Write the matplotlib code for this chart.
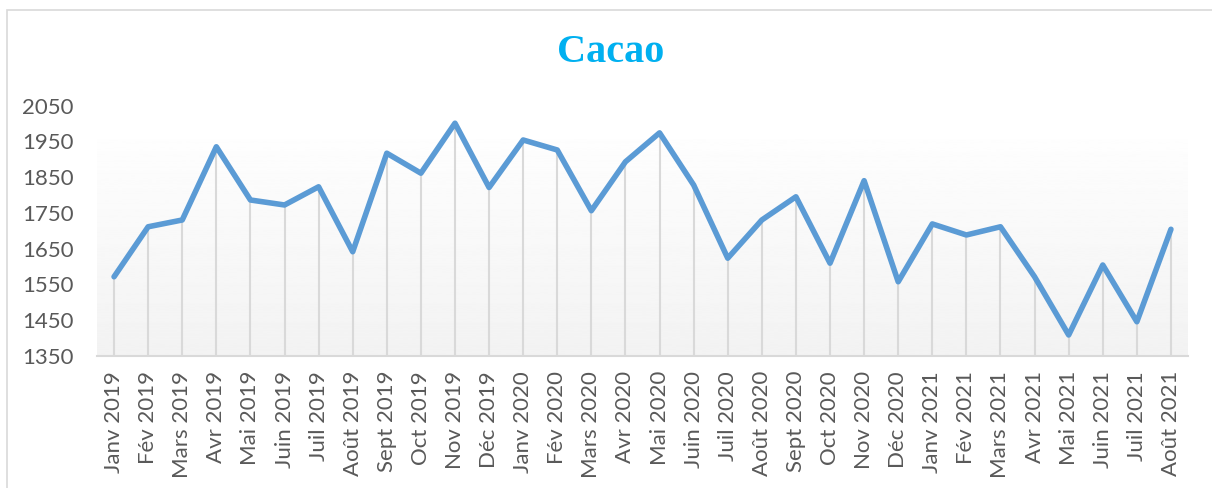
import numpy as np
import matplotlib.pyplot as plt
from matplotlib.patches import Rectangle

# Monthly cacao prices, Jan 2019 - Aug 2021
months = ["Janv 2019", "Fév 2019", "Mars 2019", "Avr 2019", "Mai 2019", "Juin 2019",
          "Juil 2019", "Août 2019", "Sept 2019", "Oct 2019", "Nov 2019", "Déc 2019",
          "Janv 2020", "Fév 2020", "Mars 2020", "Avr 2020", "Mai 2020", "Juin 2020",
          "Juil 2020", "Août 2020", "Sept 2020", "Oct 2020", "Nov 2020", "Déc 2020",
          "Janv 2021", "Fév 2021", "Mars 2021", "Avr 2021", "Mai 2021", "Juin 2021",
          "Juil 2021", "Août 2021"]
prices = [1571, 1711, 1730, 1935, 1786, 1772, 1823, 1641, 1917, 1861, 2001, 1821,
          1954, 1926, 1756, 1893, 1974, 1828, 1623, 1730, 1795, 1609, 1840, 1557,
          1719, 1688, 1711, 1571, 1408, 1604, 1445, 1704]
y_ticks = [1350, 1450, 1550, 1650, 1750, 1850, 1950, 2050]

LINE = "#5B9BD5"
TXT = "#595959"
GRID = "#D9D9D9"

fig = plt.figure(figsize=(12.12, 4.88), dpi=100)
fig.patches.append(Rectangle((6.5 / 1212, -0.1), 1.2, (488 - 9.5) / 488 + 0.1,
                             transform=fig.transFigure, fill=False,
                             edgecolor=GRID, linewidth=1.2))

ax = fig.add_axes([97 / 1212, 132.3 / 488, (1188 - 97) / 1212, 250 / 488])
x = np.arange(len(months))
ax.set_xlim(-0.5, len(months) - 0.5)
ax.set_ylim(1350, 2050)

# light gradient background (white on top to pale gray)
grad = np.linspace(0.95, 0.995, 256).reshape(-1, 1)
ax.imshow(grad, cmap="gray", vmin=0, vmax=1, aspect="auto",
          extent=(-0.5, len(months) - 0.5, 1350, 1955), origin="lower", zorder=0)

ax.vlines(x, 1350, prices, color=GRID, linewidth=1.5, zorder=1)
ax.plot(x, prices, color=LINE, linewidth=4, solid_joinstyle="round",
        solid_capstyle="round", zorder=3)

for s in ["top", "right", "left"]:
    ax.spines[s].set_visible(False)
ax.spines["bottom"].set_color(GRID)
ax.spines["bottom"].set_linewidth(1.5)

ax.set_yticks(y_ticks)
ax.set_yticklabels([str(v) for v in y_ticks])
ax.set_xticks(x)
ax.set_xticklabels(months, rotation=90)
ax.tick_params(axis="y", length=0, pad=17, labelsize=16, labelcolor=TXT)
ax.tick_params(axis="x", length=0, pad=11, labelsize=16, labelcolor=TXT)
for lab in ax.get_xticklabels() + ax.get_yticklabels():
    lab.set_family(["Lato", "DejaVu Sans"])

fig.text(611 / 1212, 1 - 52 / 488, "Cacao", ha="center", va="center",
         fontsize=29, fontweight="bold", color="#00B0F0",
         family=["Liberation Serif", "DejaVu Serif"])

fig.savefig("out.png", dpi=100)
